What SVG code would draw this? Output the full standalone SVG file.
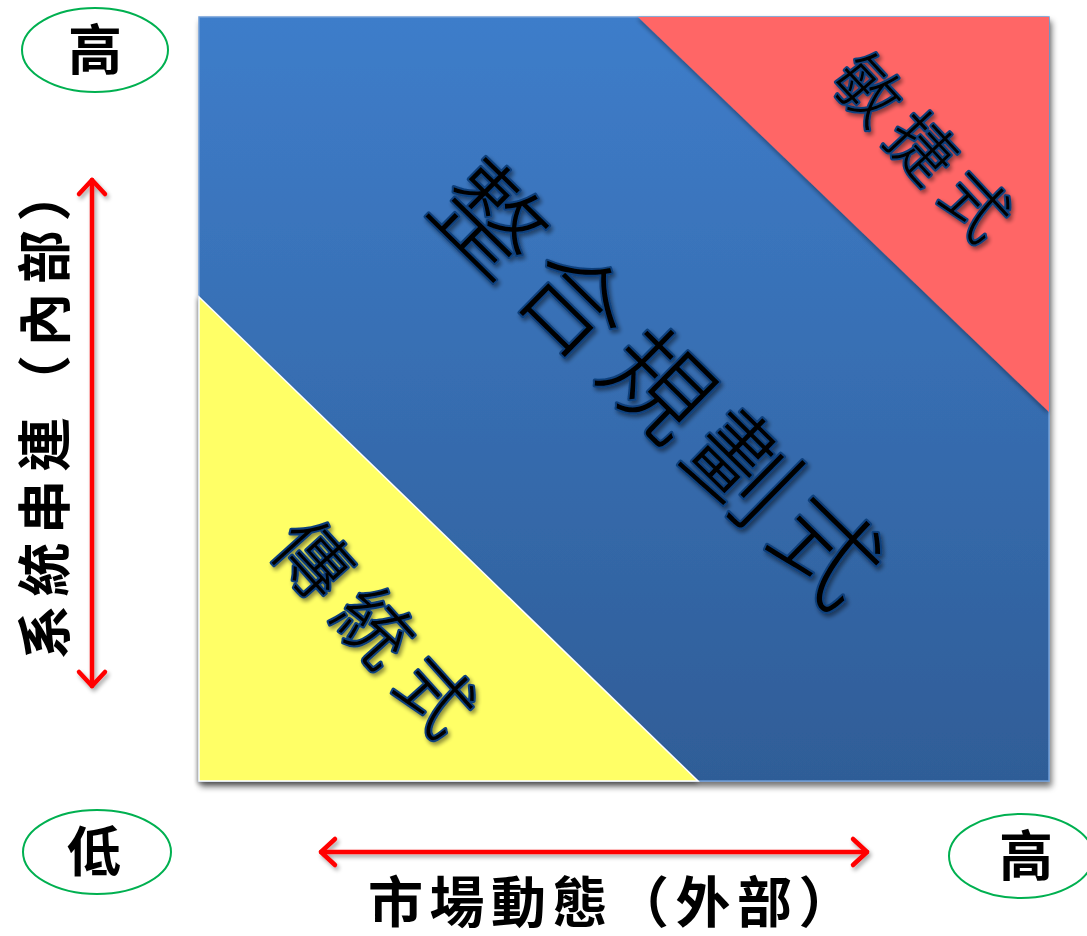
<svg xmlns="http://www.w3.org/2000/svg" width="1087" height="936" viewBox="0 0 1087 936">
<defs>
<linearGradient id="blueGrad" x1="0" y1="0" x2="0" y2="1">
<stop offset="0" stop-color="#3E7DCA"/>
<stop offset="1" stop-color="#2F5D97"/>
</linearGradient>
<filter id="boxShadow" x="-5%" y="-5%" width="112%" height="112%">
<feGaussianBlur in="SourceAlpha" stdDeviation="3"/>
<feOffset dx="2" dy="5" result="b"/>
<feComponentTransfer><feFuncA type="linear" slope="0.55"/></feComponentTransfer>
<feMerge><feMergeNode/><feMergeNode in="SourceGraphic"/></feMerge>
</filter>
<filter id="triShadow" x="-5%" y="-5%" width="112%" height="112%">
<feGaussianBlur in="SourceAlpha" stdDeviation="2"/>
<feOffset dx="-1" dy="2" result="b"/>
<feComponentTransfer><feFuncA type="linear" slope="0.35"/></feComponentTransfer>
<feMerge><feMergeNode/><feMergeNode in="SourceGraphic"/></feMerge>
</filter>
<filter id="textShadow" x="-10%" y="-10%" width="125%" height="125%">
<feGaussianBlur in="SourceAlpha" stdDeviation="2"/>
<feOffset dx="2" dy="3" result="b"/>
<feComponentTransfer><feFuncA type="linear" slope="0.45"/></feComponentTransfer>
<feMerge><feMergeNode/><feMergeNode in="SourceGraphic"/></feMerge>
</filter>
<filter id="arrowShadow" x="-10%" y="-10%" width="125%" height="125%">
<feGaussianBlur in="SourceAlpha" stdDeviation="2"/>
<feOffset dx="2" dy="3" result="b"/>
<feComponentTransfer><feFuncA type="linear" slope="0.35"/></feComponentTransfer>
<feMerge><feMergeNode/><feMergeNode in="SourceGraphic"/></feMerge>
</filter>
<style>
.zone { font-family: "Noto Sans CJK TC", "Noto Sans CJK SC", sans-serif; font-weight: 300; fill: #000; stroke: #0F3F7C; stroke-width: 4; stroke-linejoin: round; paint-order: stroke; text-anchor: middle; }
.axis { font-family: "Noto Sans CJK TC", "Noto Sans CJK SC", sans-serif; font-weight: 700; fill: #000; }
.oval { fill: #FFFFFF; stroke: #00B050; stroke-width: 2; }
.arrow { fill: none; stroke: #FF0000; stroke-width: 4.5; stroke-linecap: round; stroke-linejoin: round; }
</style>
</defs>

<g id="matrix" filter="url(#boxShadow)">
<rect x="199" y="17" width="850" height="764" fill="url(#blueGrad)" stroke="#6E9CD6" stroke-width="1.5"/>
</g>
<g id="agile-zone">
<polygon points="638,17 1049,17 1049,412" fill="#FF6666" filter="url(#triShadow)"/>
</g>
<g id="traditional-zone">
<polygon points="199,297 199,781 698,781" fill="#FFFF66" stroke="#FFFFFF" stroke-width="1.5" filter="url(#triShadow)"/>
</g>

<g id="label-integrated" filter="url(#textShadow)">
<text class="zone" transform="translate(658,385) rotate(44.5)" x="6" y="38" font-size="105" letter-spacing="13">整合規劃式</text>
</g>
<g id="label-agile" filter="url(#textShadow)">
<text class="zone" transform="translate(922,148) rotate(47)" x="6" y="24" font-size="66" letter-spacing="13">敏捷式</text>
</g>
<g id="label-traditional" filter="url(#textShadow)">
<text class="zone" transform="translate(374,628) rotate(48)" x="8" y="27" font-size="75" letter-spacing="17">傳統式</text>
</g>

<g id="oval-high-top">
<ellipse class="oval" cx="95" cy="50" rx="73" ry="42"/>
<text class="axis" x="95" y="70" font-size="54" text-anchor="middle">高</text>
</g>
<g id="oval-low">
<ellipse class="oval" cx="97" cy="852" rx="74" ry="42"/>
<text class="axis" x="94" y="872" font-size="54" text-anchor="middle">低</text>
</g>
<g id="oval-high-right">
<ellipse class="oval" cx="1021" cy="856" rx="72" ry="42"/>
<text class="axis" x="1026" y="876" font-size="54" text-anchor="middle">高</text>
</g>

<g id="label-vertical">
<text class="axis" transform="translate(45,409) rotate(-90)" x="-250" y="20" font-size="54" letter-spacing="8.5">系統串連（內部）</text>
</g>
<g id="label-horizontal">
<text class="axis" x="368" y="922" font-size="55" letter-spacing="6.5">市場動態（外部）</text>
</g>

<g id="connectors" filter="url(#arrowShadow)">
<path class="arrow" d="M92,180 L92,686"/>
<path class="arrow" d="M79,194 L92,180 L105,194"/>
<path class="arrow" d="M79,672 L92,686 L105,672"/>
<path class="arrow" d="M321,852 L867,852"/>
<path class="arrow" d="M335,839 L321,852 L335,865"/>
<path class="arrow" d="M853,839 L867,852 L853,865"/>
</g>
</svg>
